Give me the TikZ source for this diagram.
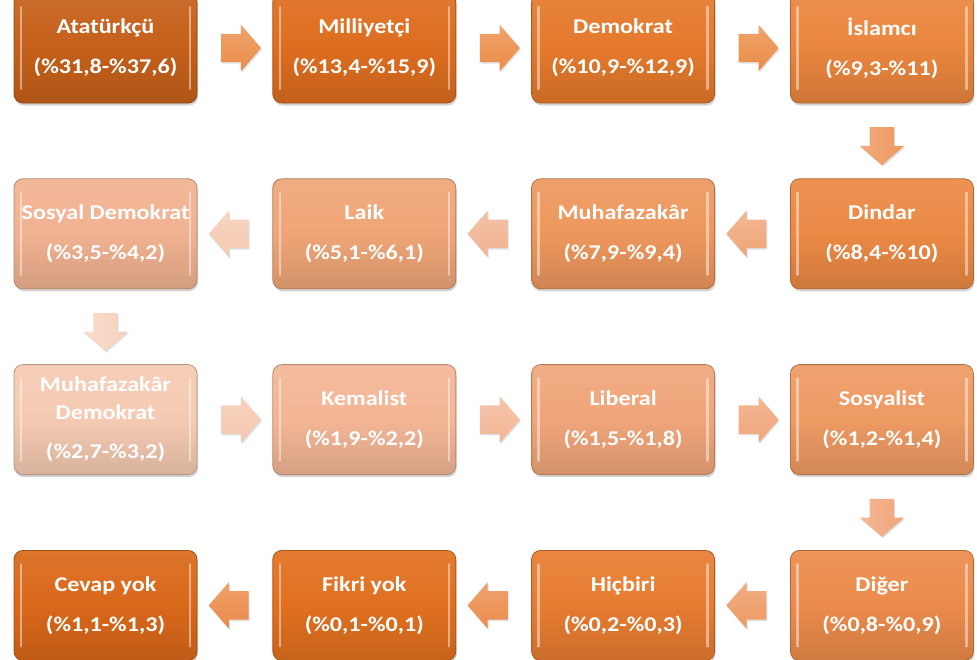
\documentclass[tikz,border=0pt]{standalone}
\usepackage{fontspec}
\setmainfont{Carlito}[FakeStretch=1.15]
\usepackage{tikz}
\usetikzlibrary{positioning,shapes.arrows,shadows,calc}
\definecolor{cAtat}{HTML}{C5601A}
\definecolor{cMill}{HTML}{DD6D1F}
\definecolor{cDemo}{HTML}{E4792C}
\definecolor{cIsla}{HTML}{EA863E}
\definecolor{cDind}{HTML}{EB8945}
\definecolor{cMuha}{HTML}{ED975D}
\definecolor{cLaik}{HTML}{EFA577}
\definecolor{cSosd}{HTML}{F1B291}
\definecolor{cMuhd}{HTML}{F5CAB2}
\definecolor{cKema}{HTML}{F3B696}
\definecolor{cLibe}{HTML}{F0A57A}
\definecolor{cSosy}{HTML}{EE9A63}
\definecolor{cDige}{HTML}{EB8B4B}
\definecolor{cHicb}{HTML}{E77C31}
\definecolor{cFikr}{HTML}{E1701F}
\definecolor{cCevp}{HTML}{D9681A}
\tikzset{flow/.style = {
    single arrow, draw=none, inner xsep=0pt, inner ysep=14pt,
    minimum height=40pt, minimum width=46pt,
    single arrow head extend=9pt, single arrow tip angle=98,
    top color=#1!80!white, bottom color=#1,
    drop shadow={opacity=0.25, shadow xshift=1pt, shadow yshift=-1.5pt},
  },
  drop/.style = {
    flow=#1, shape border rotate=270, inner xsep=12pt, inner ysep=0pt,
    minimum height=38pt, minimum width=44pt, single arrow head extend=10pt,
    left color=#1!80!white, right color=#1,
  }
}

\begin{document}
\begin{tikzpicture}[x=1pt, y=-1pt,
          box/.style={rectangle, rounded corners=9pt, minimum width=183pt, minimum height=110pt,
            draw=#1!75!black, line width=0.8pt,
            top color=#1!92!white, bottom color=#1!88!black, middle color=#1,
            drop shadow={opacity=0.35, shadow xshift=1pt, shadow yshift=-2.5pt},
            text=white, font=\bfseries\fontsize{21}{28}\selectfont, align=center,
            path picture={
              \draw[white, opacity=0.45, line width=2.5pt, line cap=round]
                ([xshift=7pt, yshift=-14pt]path picture bounding box.north west) -- ([xshift=7pt, yshift=14pt]path picture bounding box.south west);
              \draw[white, opacity=0.45, line width=2.5pt, line cap=round]
                ([xshift=-7pt, yshift=-14pt]path picture bounding box.north east) -- ([xshift=-7pt, yshift=14pt]path picture bounding box.south east);
            }}
          ]
          \useasboundingbox (0,0) rectangle (977,659);
          \clip (0,0) rectangle (977,659);

          % vertices
          \node[box=cAtat] (atat) at (105.5,48) {Atatürkçü\\[12pt](\%31,8-\%37,6)};
          \node[box=cMill, right=75pt of atat] (mill) {Milliyetçi\\[12pt](\%13,4-\%15,9)};
          \node[box=cDemo, right=75pt of mill] (demo) {Demokrat\\[12pt](\%10,9-\%12,9)};
          \node[box=cIsla, right=75pt of demo] (isla) {İslamcı\\[12pt](\%9,3-\%11)};

          \node[box=cDind, below=75pt of isla] (dind) {Dindar\\[12pt](\%8,4-\%10)};
          \node[box=cMuha, left=75pt of dind] (muha) {Muhafazakâr\\[12pt](\%7,9-\%9,4)};
          \node[box=cLaik, left=75pt of muha] (laik) {Laik\\[12pt](\%5,1-\%6,1)};
          \node[box=cSosd, left=75pt of laik] (sosd) {Sosyal Demokrat\\[12pt](\%3,5-\%4,2)};

          \node[box=cMuhd, below=75pt of sosd] (muhd) {Muhafazakâr\\Demokrat\\[11pt](\%2,7-\%3,2)};
          \node[box=cKema, right=75pt of muhd] (kema) {Kemalist\\[12pt](\%1,9-\%2,2)};
          \node[box=cLibe, right=75pt of kema] (libe) {Liberal\\[12pt](\%1,5-\%1,8)};
          \node[box=cSosy, right=75pt of libe] (sosy) {Sosyalist\\[12pt](\%1,2-\%1,4)};

          \node[box=cDige, below=75pt of sosy] (dige) {Diğer\\[12pt](\%0,8-\%0,9)};
          \node[box=cHicb, left=75pt of dige] (hicb) {Hiçbiri\\[12pt](\%0,2-\%0,3)};
          \node[box=cFikr, left=75pt of hicb] (fikr) {Fikri yok\\[12pt](\%0,1-\%0,1)};
          \node[box=cCevp, left=75pt of fikr] (cevp) {Cevap yok\\[12pt](\%1,1-\%1,3)};

          % arrows
          \node[flow=cIsla!95!white] (f1) at ($(atat.east)!0.5!(mill.west)$) {};
          \node[flow=cIsla!95!white] (f2) at ($(mill.east)!0.5!(demo.west)$) {};
          \node[flow=cIsla!95!white] (f3) at ($(demo.east)!0.5!(isla.west)$) {};
          \node[drop=cMuha] (f4) at ($(isla.south)!0.5!(dind.north)$) {};
          \node[flow=cLaik, shape border rotate=180] (f5) at ($(dind.west)!0.5!(muha.east)$) {};
          \node[flow=cSosd, shape border rotate=180] (f6) at ($(muha.west)!0.5!(laik.east)$) {};
          \node[flow=cMuhd, shape border rotate=180] (f7) at ($(laik.west)!0.5!(sosd.east)$) {};
          \node[drop=cMuhd!85!white] (f8) at ($(sosd.south)!0.5!(muhd.north)$) {};
          \node[flow=cMuhd!90!cKema] (f9) at ($(muhd.east)!0.5!(kema.west)$) {};
          \node[flow=cKema] (f10) at ($(kema.east)!0.5!(libe.west)$) {};
          \node[flow=cLibe] (f11) at ($(libe.east)!0.5!(sosy.west)$) {};
          \node[drop=cLibe] (f12) at ($(sosy.south)!0.5!(dige.north)$) {};
          \node[flow=cSosy, shape border rotate=180] (f13) at ($(dige.west)!0.5!(hicb.east)$) {};
          \node[flow=cDige, shape border rotate=180] (f14) at ($(hicb.west)!0.5!(fikr.east)$) {};
          \node[flow=cDige!90!cHicb, shape border rotate=180] (f15) at ($(fikr.west)!0.5!(cevp.east)$) {};
        \end{tikzpicture}
\end{document}
